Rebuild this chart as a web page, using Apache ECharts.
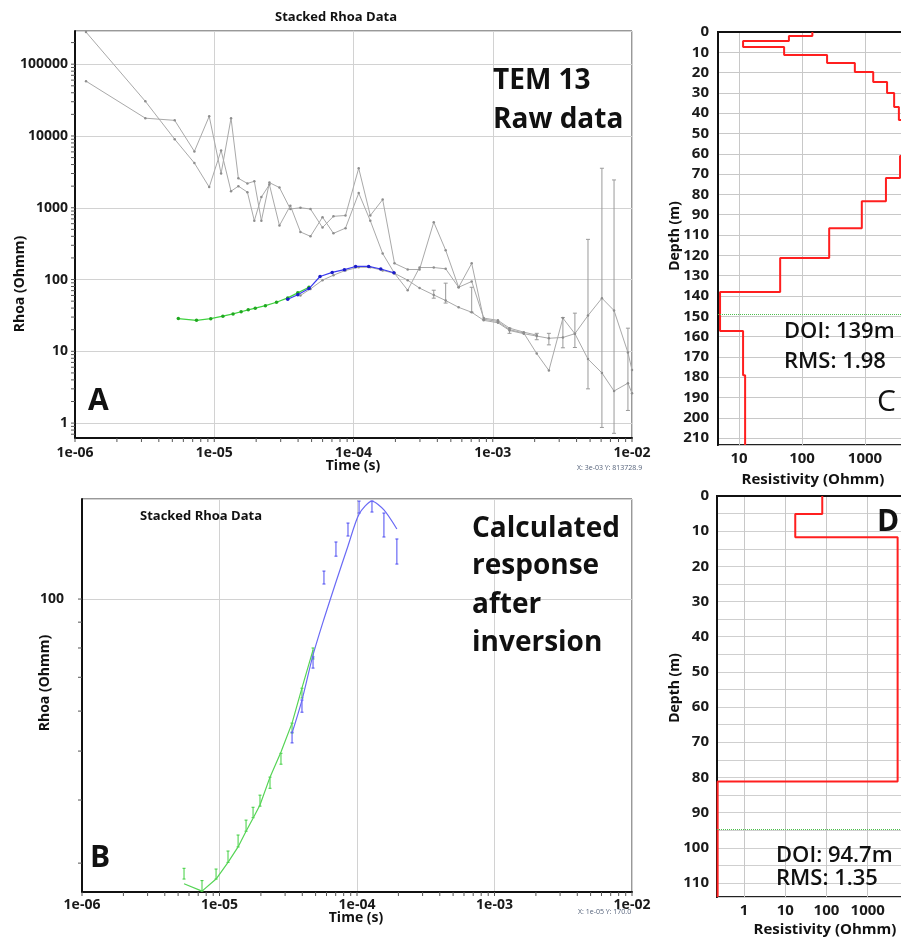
<!DOCTYPE html>
<html>
<head>
<meta charset="utf-8">
<title>TEM 13 stacked Rhoa</title>
<script src="https://cdn.jsdelivr.net/npm/echarts@6/dist/echarts.min.js"></script>
<style>
  html, body { margin: 0; padding: 0; background: #fff; }
  #chart { width: 901px; height: 940px; }
</style>
</head>
<body>
<div id="chart"></div>
<script>
// ---- panel A: raw stacked data (grey), gates shared by the three soundings
var grayTimes = [1.2e-6, 3.2e-6, 5.2e-6, 7.2e-6, 9.2e-6, 1.12e-5, 1.32e-5, 1.49e-5, 1.73e-5, 1.94e-5,
  2.18e-5, 2.49e-5, 2.94e-5, 3.52e-5, 4.16e-5, 4.91e-5, 5.99e-5, 7.18e-5, 8.76e-5, 1.09e-4,
  1.32e-4, 1.62e-4, 1.97e-4, 2.45e-4, 2.98e-4, 3.77e-4, 4.59e-4, 5.69e-4, 7.06e-4, 8.61e-4,
  1.09e-3, 1.32e-3, 1.67e-3, 2.07e-3, 2.53e-3, 3.19e-3, 3.89e-3, 4.83e-3, 6.08e-3, 7.43e-3,
  9.35e-3, 1.0e-2]
var grayA = [58000, 17700, 16500, 6100, 18800, 3000, 17700, 2570, 2180, 2340,
  660, 2240, 1910, 960, 1000, 960, 530, 760, 780, 3550,
  780, 1300, 168, 138, 138, 630, 256, 78, 168, 28,
  26, 20, 18, 9.3, 5.4, 29, 17.6, 31.5, 55, 37,
  9.6, 5.5]
var grayB = [280000, 30400, 9000, 4200, 1940, 6300, 1700, 2000, 1650, 660,
  1410, 2100, 565, 1070, 460, 400, 740, 440, 520, 1600,
  660, 230, 122, 71, 147, 147, 141, 78, 94, 29,
  27, 21, 18.5, 16.8, null, null, null, null, null, null,
  null, null]
var grayC = [null, null, null, null, null, null, null, null, null, null,
  null, null, null, null, 60, 74, 98, 115, 134, 148,
  148, 134, 122, 98, 76, 61, 51, 41, 35, 27,
  25, 19.5, 17.6, 16.3, 15.2, 15.6, 17.6, 7.8, 5.0, 2.8,
  3.6, 2.6]
// grey error bars
var errTimes = [3.77e-4, 4.59e-4, 7.06e-4, 1.32e-3, 2.07e-3, 2.53e-3, 3.19e-3, 3.89e-3, 4.83e-3, 6.08e-3, 7.43e-3, 9.35e-3]
var errLo = [55, 47, 35, 17.8, 14.5, 12.3, 11.2, 11.3, 3.0, 0.87, 0.72, 1.5]
var errHi = [71, 89, 78, 21, 17.8, 17.8, 29.5, 34, 363, 3550, 2440, 21]

// ---- low moment (green) and high moment (blue) data used in the inversion
var greenTimes = [5.52e-6, 7.46e-6, 9.44e-6, 1.153e-5, 1.365e-5, 1.56e-5, 1.754e-5, 1.97e-5, 2.33e-5, 2.8e-5, 3.37e-5, 3.98e-5, 4.79e-5]
var greenData = [28.6, 27.0, 28.5, 30.9, 33.2, 35.6, 37.8, 39.9, 43.3, 48.3, 55.5, 65.2, 78.0]
var greenLo = [27.9, 26.4, 27.9, 30.1, 32.3, 34.7, 36.9, 38.9, 42.2, 47.1, 54.3, 63.7, 76.1]
var greenHi = [29.3, 27.7, 29.2, 31.7, 34.1, 36.5, 38.7, 40.9, 44.4, 49.5, 56.8, 66.6, 80.0]
var greenModel = [27.3, 26.4, 27.9, 30.1, 32.3, 34.7, 36.8, 39.1, 44.4, 49.8, 56.8, 66.7, 79.3]

var blueTimes = [3.37e-5, 3.98e-5, 4.79e-5, 5.75e-5, 7.03e-5, 8.6e-5, 1.035e-4, 1.285e-4, 1.57e-4, 1.95e-4]
var blueData = [53.2, 61.4, 74.9, 110.3, 125.6, 137.3, 152.1, 152.5, 140.1, 124.2]
var blueLo = [51.9, 59.7, 73.0, 107.1, 121.6, 133.3, 148.0, 148.7, 132.7, 117.3]
var blueHi = [54.5, 63.1, 76.8, 113.6, 129.7, 141.4, 156.3, 156.3, 148.0, 131.5]
var blueModel = [54.3, 63.1, 77.5, 91.3, 108.1, 127.4, 147.3, 156.3, 150.1, 137.6]

// ---- layered models (resistivity in Ohmm, layer bottoms in m)
var resC = [146, 62, 11.6, 52, 250, 690, 1350, 2240, 2900, 3450, 6000, 3600, 2150, 890, 270, 45, 5.0, 11.6, 12.5]
var bottomC = [2.0, 4.4, 7.4, 11.3, 15.3, 19.7, 24.6, 30.0, 36.9, 43.3, 61.1, 71.9, 83.3, 96.6, 111.3, 128.1, 147.3, 169.0]
var doiC = 139
var resD = [79, 17.5, 5300, 0.23]
var bottomD = [5.1, 11.7, 81.2]
var doiD = 94.7

var timeLabels = [1e-6, 1e-5, 1e-4, 1e-3, 1e-2]
var rhoLabels = [1, 10, 100, 1000, 10000, 100000]
var rhoTicksB = [30, 40, 50, 60, 70, 80, 90, 100]

// axis ranges
var T_MIN = 1e-6, T_MAX = 1e-2
var RA_MIN = 0.62, RA_MAX = 290000
var RB_MIN = 26.3, RB_MAX = 157.8

var FONT = 'Open Sans'
var GRID = '#d2d2d2'

function pairs (xs, ys) {
  var out = []
  for (var i = 0; i < xs.length; i++) {
    if (ys[i] != null) out.push([xs[i], ys[i]])
  }
  return out
}
function bars (xs, lo, hi) {
  return xs.map(function (x, i) { return [x, lo[i], hi[i]] })
}
function steps (res, bottoms, maxDepth) {
  var out = []
  var top = 0
  for (var i = 0; i < res.length; i++) {
    var bot = i < bottoms.length ? bottoms[i] : maxDepth
    out.push([res[i], top])
    out.push([res[i], bot])
    top = bot
  }
  return out
}
function logTicks (lo, hi) {
  var out = []
  for (var e = Math.floor(Math.log10(lo)); e <= Math.ceil(Math.log10(hi)); e++) {
    for (var k = 1; k < 10; k++) {
      var v = k * Math.pow(10, e)
      if (v >= lo * 0.999 && v <= hi * 1.001) out.push(v)
    }
  }
  return out
}
function expLabel (v) {
  var e = Math.round(Math.log10(v))
  var a = Math.abs(e)
  return '1e' + (e < 0 ? '-' : '+') + (a < 10 ? '0' + a : a)
}
function plain (v) {
  return String(Math.round(v))
}
function barRenderer (color, cap) {
  return function (params, api) {
    var top = api.coord([api.value(0), api.value(2)])
    var bot = api.coord([api.value(0), api.value(1)])
    var st = { stroke: color, lineWidth: 1 }
    return {
      type: 'group',
      children: [
        { type: 'line', shape: { x1: top[0], y1: top[1], x2: bot[0], y2: bot[1] }, style: st },
        { type: 'line', shape: { x1: top[0] - cap, y1: top[1], x2: top[0] + cap, y2: top[1] }, style: st },
        { type: 'line', shape: { x1: bot[0] - cap, y1: bot[1], x2: bot[0] + cap, y2: bot[1] }, style: st }
      ]
    }
  }
}
// small outward tick marks on log axes (dx, dy = direction of the tick)
function tickSeries (gridIdx, points, dx, dy) {
  return {
    type: 'custom', xAxisIndex: gridIdx, yAxisIndex: gridIdx, clip: false, silent: true,
    encode: { x: 0, y: 1 },
    data: points,
    renderItem: function (params, api) {
      var p = api.coord([api.value(0), api.value(1)])
      return {
        type: 'line',
        shape: { x1: p[0], y1: p[1], x2: p[0] + dx, y2: p[1] + dy },
        style: { stroke: '#555', lineWidth: 1 }
      }
    },
    z: 1
  }
}

var tickFont = { fontFamily: FONT, fontWeight: 'bold', fontSize: 14, color: '#1a1a1a' }
var blackLine = { show: true, lineStyle: { color: '#111', width: 2 } }

function mainTimeAxis (gridIndex, margin) {
  return {
    type: 'log', gridIndex: gridIndex, min: T_MIN, max: T_MAX,
    axisLine: blackLine,
    axisTick: { show: false },
    axisLabel: Object.assign({ margin: margin, formatter: expLabel, customValues: timeLabels }, tickFont),
    splitLine: { show: true, lineStyle: { color: GRID, width: 1 } }
  }
}

var grayLine = {
  type: 'line', xAxisIndex: 0, yAxisIndex: 0,
  symbol: 'circle', symbolSize: 2.5, showSymbol: true,
  lineStyle: { color: '#a9a9a9', width: 1 },
  itemStyle: { color: '#8e8e8e' },
  z: 3
}

var option = {
  animation: false,
  backgroundColor: '#fff',
  grid: [
    { left: 75, top: 31, width: 557, height: 407, show: true, borderColor: '#333', borderWidth: 1, outerBoundsMode: 'none' },
    { left: 82, top: 499, width: 550, height: 393, show: true, borderColor: '#333', borderWidth: 1, outerBoundsMode: 'none' },
    { left: 718, top: 32, width: 210, height: 413, show: true, borderColor: '#222', borderWidth: 2, outerBoundsMode: 'none' },
    { left: 717, top: 496, width: 192, height: 401, show: true, borderColor: '#222', borderWidth: 2, outerBoundsMode: 'none' }
  ],
  xAxis: [
    mainTimeAxis(0, 8),
    mainTimeAxis(1, 6),
    {
      type: 'log', gridIndex: 2, min: 4.64, max: 10000,
      axisLine: blackLine, axisTick: { show: false },
      axisLabel: Object.assign({ margin: 6, formatter: plain, customValues: [10, 100, 1000] }, tickFont, { fontSize: 15 }),
      splitLine: { show: true, lineStyle: { color: '#c8c8c8', width: 1 } }
    },
    {
      type: 'log', gridIndex: 3, min: 0.222, max: 10000,
      axisLine: blackLine, axisTick: { show: false },
      axisLabel: Object.assign({ margin: 6, formatter: plain, customValues: [1, 10, 100, 1000] }, tickFont, { fontSize: 15 }),
      splitLine: { show: true, lineStyle: { color: '#c8c8c8', width: 1 } }
    }
  ],
  yAxis: [
    {
      type: 'log', gridIndex: 0, min: RA_MIN, max: RA_MAX,
      axisLine: blackLine, axisTick: { show: false },
      axisLabel: Object.assign({ margin: 7, formatter: plain, customValues: rhoLabels }, tickFont),
      splitLine: { show: true, lineStyle: { color: GRID, width: 1 } }
    },
    {
      // default log ticks here are the two ends plus 100, so only one grid line shows inside
      type: 'log', gridIndex: 1, min: RB_MIN, max: RB_MAX,
      axisLine: blackLine, axisTick: { show: false },
      axisLabel: Object.assign({ margin: 18, formatter: plain, customValues: [100] }, tickFont),
      splitLine: { show: true, lineStyle: { color: GRID, width: 1 } }
    },
    {
      type: 'value', gridIndex: 2, inverse: true, min: 0, max: 203.4, interval: 10,
      axisLine: blackLine, axisTick: { show: false },
      axisLabel: Object.assign({
        margin: 9, showMaxLabel: false,
        // the reference skips the 100 label: ticks below 90 read one step deeper
        formatter: function (v) { return v >= 100 ? String(v + 10) : String(v) }
      }, tickFont, { fontSize: 15 }),
      splitLine: { show: true, lineStyle: { color: '#c8c8c8', width: 1 } }
    },
    {
      type: 'value', gridIndex: 3, inverse: true, min: 0, max: 114, interval: 5,
      axisLine: blackLine, axisTick: { show: false },
      axisLabel: Object.assign({
        margin: 8, showMaxLabel: false,
        formatter: function (v) { return v % 10 === 0 ? String(v) : '' }
      }, tickFont, { fontSize: 15 }),
      splitLine: { show: true, lineStyle: { color: '#cfcfcf', width: 1 } }
    }
  ],
  series: [
    Object.assign({ name: 'raw A' }, grayLine, { data: pairs(grayTimes, grayA) }),
    Object.assign({ name: 'raw B' }, grayLine, { data: pairs(grayTimes, grayB) }),
    Object.assign({ name: 'raw C' }, grayLine, { data: pairs(grayTimes, grayC) }),
    {
      name: 'raw err', type: 'custom', xAxisIndex: 0, yAxisIndex: 0,
      renderItem: barRenderer('#9a9a9a', 2),
      encode: { x: 0, y: [1, 2] },
      data: bars(errTimes, errLo, errHi), z: 3
    },
    {
      name: 'low moment', type: 'line', xAxisIndex: 0, yAxisIndex: 0,
      symbol: 'circle', symbolSize: 3.5,
      lineStyle: { color: '#3fd23f', width: 1.2 }, itemStyle: { color: '#1fa81f' },
      data: pairs(greenTimes, greenData), z: 5
    },
    {
      name: 'high moment', type: 'line', xAxisIndex: 0, yAxisIndex: 0,
      symbol: 'circle', symbolSize: 3.5,
      lineStyle: { color: '#3b3bf0', width: 1.2 }, itemStyle: { color: '#1c1cc8' },
      data: pairs(blueTimes, blueData), z: 6
    },
    {
      name: 'low err', type: 'custom', xAxisIndex: 1, yAxisIndex: 1,
      renderItem: barRenderer('#3fcf3f', 1.5),
      encode: { x: 0, y: [1, 2] },
      data: bars(greenTimes, greenLo, greenHi), z: 4
    },
    {
      name: 'low model', type: 'line', xAxisIndex: 1, yAxisIndex: 1,
      showSymbol: false, lineStyle: { color: '#55d455', width: 1.2 },
      data: pairs(greenTimes, greenModel), z: 4
    },
    {
      name: 'high err', type: 'custom', xAxisIndex: 1, yAxisIndex: 1,
      renderItem: barRenderer('#4b4bf2', 1.5),
      encode: { x: 0, y: [1, 2] },
      data: bars(blueTimes, blueLo, blueHi), z: 5
    },
    {
      name: 'high model', type: 'line', xAxisIndex: 1, yAxisIndex: 1,
      showSymbol: false, smooth: 0.25, lineStyle: { color: '#6a6af5', width: 1.2 },
      data: pairs(blueTimes, blueModel), z: 5
    },
    {
      name: 'model C', type: 'line', xAxisIndex: 2, yAxisIndex: 2,
      showSymbol: false, clip: false,
      lineStyle: { color: '#ff1f1f', width: 2 },
      data: steps(resC, bottomC, 203.4),
      markLine: {
        silent: true, symbol: 'none', label: { show: false },
        lineStyle: { color: '#4cbf4c', type: 'dotted', width: 1 },
        data: [{ yAxis: doiC }]
      }
    },
    {
      name: 'model D', type: 'line', xAxisIndex: 3, yAxisIndex: 3,
      showSymbol: false, clip: false,
      lineStyle: { color: '#ff1f1f', width: 2 },
      data: steps(resD, bottomD, 114),
      markLine: {
        silent: true, symbol: 'none', label: { show: false },
        lineStyle: { color: '#4cbf4c', type: 'dotted', width: 1 },
        data: [{ yAxis: doiD }]
      }
    },
    tickSeries(0, logTicks(T_MIN, T_MAX).map(function (v) { return [v, RA_MIN] }), 0, 4),
    tickSeries(0, logTicks(RA_MIN, RA_MAX).map(function (v) { return [T_MIN, v] }), -4, 0),
    tickSeries(1, logTicks(T_MIN, T_MAX).map(function (v) { return [v, RB_MIN] }), 0, 4),
    tickSeries(1, rhoTicksB.map(function (v) { return [T_MIN, v] }), -4, 0)
  ],
  graphic: [
    txt('Stacked Rhoa Data', 336, 17, 13, 'bold', 'center'),
    txt('TEM 13', 493, 81, 28, 'bold', 'left'),
    txt('Raw data', 493, 120, 28, 'bold', 'left'),
    txt('A', 88, 401, 30, 'bold', 'left'),
    txt('Time (s)', 353, 466, 14, 'bold', 'center'),
    txt('X: 3e-03 Y: 813728.9', 577, 468, 7, 'normal', 'left', '#55627a'),
    rot('Rhoa (Ohmm)', 20, 284, 14),

    txt('Stacked Rhoa Data', 201, 516, 13, 'bold', 'center'),
    txt('Calculated', 472, 529, 28, 'bold', 'left'),
    txt('response', 472, 566, 28, 'bold', 'left'),
    txt('after', 472, 605, 28, 'bold', 'left'),
    txt('inversion', 472, 643, 28, 'bold', 'left'),
    txt('B', 90, 858, 30, 'bold', 'left'),
    txt('Time (s)', 356, 918, 14, 'bold', 'center'),
    txt('X: 1e-05 Y: 170.0', 578, 912, 7, 'normal', 'left', '#55627a'),
    rot('Rhoa (Ohmm)', 45, 683, 14),

    rot('Depth (m)', 675, 236, 14),
    txt('Resistivity (Ohmm)', 813, 480, 15, 'bold', 'center'),
    txt('DOI: 139m', 784, 332, 22, '600', 'left'),
    txt('RMS: 1.98', 784, 362, 22, '600', 'left'),
    txt('C', 877, 402, 30, 'normal', 'left'),

    rot('Depth (m)', 675, 688, 14),
    txt('Resistivity (Ohmm)', 825, 930, 15, 'bold', 'center'),
    txt('DOI: 94.7m', 776, 856, 22, '600', 'left'),
    txt('RMS: 1.35', 776, 879, 22, '600', 'left'),
    txt('D', 877, 522, 30, 'bold', 'left')
  ]
}

function txt (s, x, y, size, weight, align, color) {
  return {
    type: 'text', x: x, y: y, z: 50,
    style: {
      text: s, fontFamily: FONT, fontSize: size, fontWeight: weight,
      fill: color || '#111', align: align, verticalAlign: 'middle'
    }
  }
}
function rot (s, x, y, size) {
  return {
    type: 'text', x: x, y: y, rotation: Math.PI / 2, z: 50,
    style: {
      text: s, fontFamily: FONT, fontSize: size, fontWeight: 'bold',
      fill: '#111', align: 'center', verticalAlign: 'middle'
    }
  }
}

var chart = echarts.init(document.getElementById('chart'), null, { renderer: 'canvas' })
chart.setOption(option)
</script>
</body>
</html>
